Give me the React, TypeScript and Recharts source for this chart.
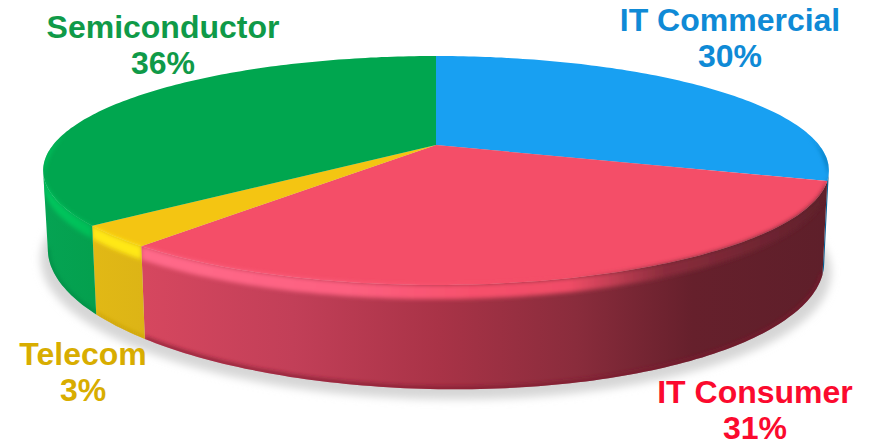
import { Pie, PieChart } from 'recharts'

const categories = ['IT Commercial', 'IT Consumer', 'Telecom', 'Semiconductor']
const shares = [30, 31, 3, 36]

const faceColors = ['#18a0f2', '#f44e68', '#f4c512', '#00a64f']
const labelColors = ['#0f8ad6', '#fb0a2e', '#d8ad00', '#0f9a48']
const lipColors = ['#0b5f94', '#7c1a2e', '#c9a010', '#008a44']

// label anchor: [x, first line baseline]
const labelPos: Record<string, [number, number]> = {
  'IT Commercial': [730, 31],
  'IT Consumer': [755, 403],
  Telecom: [83, 365],
  Semiconductor: [163, 38],
}

const pieData = categories.map((name, i) => ({ name, value: shares[i], fill: faceColors[i] }))
const shadowData = [{ name: 'shadow', value: 100 }]

const WIDTH = 869
const HEIGHT = 444
const TILT = 0.2227 // perspective strength
const FLAT = 0.284 // vertical squash of the disc
const BEVEL = 11
const DEPTH = 81
const SKEW = 0.08 // wall looks a little shorter on the left
const TANGENT = (Math.acos(-TILT) * 180) / Math.PI

const rad = (d: number) => (d * Math.PI) / 180

type Geo = { cx: number; cy: number; outerRadius: number }
type Pt = [number, number]

// clock angle (0 = 12 o'clock, clockwise) -> screen point on the disc rim
function rim(g: Geo, clock: number) {
  const u = Math.sin(rad(clock))
  const v = Math.cos(rad(clock))
  const w = 1 + TILT * v
  return {
    x: g.cx + (g.outerRadius * u) / w,
    y: g.cy - (g.outerRadius * FLAT * v) / w,
    u,
    v,
    w,
  }
}

function sweep(from: number, to: number, fn: (c: number) => Pt): Pt[] {
  const pts: Pt[] = []
  const n = Math.max(1, Math.ceil(Math.abs(to - from)))
  for (let i = 0; i <= n; i++) pts.push(fn(from + ((to - from) * i) / n))
  return pts
}

const toPath = (pts: Pt[]) =>
  pts.map((p, i) => `${i ? 'L' : 'M'}${p[0].toFixed(1)} ${p[1].toFixed(1)}`).join(' ') + ' Z'

const rimPt = (g: Geo) => (c: number): Pt => {
  const p = rim(g, c)
  return [p.x, p.y]
}
const floorPt = (g: Geo) => (c: number): Pt => {
  const p = rim(g, c)
  return [g.cx + (p.x - g.cx) * 0.988, p.y + ((DEPTH / p.w) * (1 + SKEW * p.u))]
}
const bevelPt = (g: Geo) => (c: number): Pt => {
  const p = rim(g, c)
  const f = Math.min(1, Math.max(0, (0.12 - p.v) / (0.12 + TILT)))
  return [p.x, p.y + (BEVEL * f) / p.w]
}

function SliceShape(props: any) {
  const { cx, cy, outerRadius, startAngle, endAngle, fill, name } = props
  const g: Geo = { cx, cy, outerRadius }
  const idx = categories.indexOf(name)
  const a = 90 - startAngle
  const b = 90 - endAngle

  const face = toPath([[cx, cy], ...sweep(a, b, rimPt(g))])

  const wa = Math.max(a, TANGENT)
  const wb = Math.min(b, 360 - TANGENT)
  const hasWall = wb > wa
  const wall = hasWall
    ? toPath([...sweep(wa, wb, rimPt(g)), ...sweep(wb, wa, floorPt(g))])
    : ''

  const ba = Math.max(a, 83)
  const bb = Math.min(b, 277)
  const hasBevel = bb > ba
  const bevel = hasBevel
    ? toPath([...sweep(ba, bb, rimPt(g)), ...sweep(bb, ba, bevelPt(g))])
    : ''

  const lip = hasWall
    ? sweep(wa, wb, floorPt(g))
        .map((p, i) => `${i ? 'L' : 'M'}${p[0].toFixed(1)} ${(p[1] - 1).toFixed(1)}`)
        .join(' ')
    : ''

  const clipId = `clip-${idx}`
  return (
    <g>
      <clipPath id={clipId}>
        <path d={`${face} ${wall}`} />
      </clipPath>
      {hasWall && <path d={wall} fill={`url(#wall-${idx})`} />}
      <path d={face} fill={fill} />
      <g clipPath={`url(#${clipId})`}>
        {hasBevel && <path d={bevel} fill={`url(#bevel-${idx})`} filter="url(#soft)" />}
        {hasWall && (
          <path d={lip} fill="none" stroke={lipColors[idx]} strokeWidth={3} filter="url(#soft)" />
        )}
      </g>
    </g>
  )
}

function ShadowShape(props: any) {
  const { cx, cy, outerRadius } = props
  const g: Geo = { cx, cy, outerRadius }
  const pts = sweep(0, 360, floorPt(g)).map((p): Pt => [cx + (p[0] - cx) * 1.018, p[1] + 10])
  return <path d={toPath(pts)} fill="#d6d6d6" filter="url(#shadowBlur)" />
}

function sideStops(stops: [number, string][]) {
  return stops.map(([o, c]) => <stop key={o} offset={`${o}%`} stopColor={c} />)
}

function renderLabel(props: any) {
  const { name, value } = props
  const pos = labelPos[name]
  if (!pos) return null
  const color = labelColors[categories.indexOf(name)]
  return (
    <text
      x={pos[0]}
      y={pos[1]}
      textAnchor="middle"
      fill={color}
      stroke="none"
      fontFamily="'Liberation Sans', Arial, sans-serif"
      fontWeight={700}
      fontSize={32}
    >
      <tspan x={pos[0]}>{name}</tspan>
      <tspan x={pos[0]} dy={36}>{`${value}%`}</tspan>
    </text>
  )
}

export default function App() {
  return (
    <div style={{ position: 'absolute', left: 0, top: 0, width: WIDTH, height: HEIGHT, background: '#fff' }}>
      <PieChart width={WIDTH} height={HEIGHT} margin={{ top: 0, right: 0, bottom: 0, left: 0 }}>
        <defs>
          <filter id="soft" filterUnits="userSpaceOnUse" x="0" y="0" width={WIDTH} height={HEIGHT}>
            <feGaussianBlur stdDeviation="2.2" />
          </filter>
          <filter id="shadowBlur" filterUnits="userSpaceOnUse" x="0" y="0" width={WIDTH} height={HEIGHT}>
            <feGaussianBlur stdDeviation="4" />
          </filter>
          <linearGradient id="wall-0" gradientUnits="userSpaceOnUse" x1="44" x2="830" y1="0" y2="0">
            {sideStops([[0, '#0b5f94'], [100, '#0b5f94']])}
          </linearGradient>
          <linearGradient id="wall-1" gradientUnits="userSpaceOnUse" x1="142" x2="830" y1="0" y2="0">
            {sideStops([[0, '#d6475f'], [22, '#c23f58'], [43, '#a93347'], [63, '#8a2c3c'], [80, '#66202c'], [100, '#5e1f2a']])}
          </linearGradient>
          <linearGradient id="wall-2" gradientUnits="userSpaceOnUse" x1="88" x2="147" y1="0" y2="0">
            {sideStops([[0, '#e2b915'], [100, '#dcb416']])}
          </linearGradient>
          <linearGradient id="wall-3" gradientUnits="userSpaceOnUse" x1="44" x2="93" y1="0" y2="0">
            {sideStops([[0, '#05a353'], [100, '#04a04e']])}
          </linearGradient>
          <linearGradient id="bevel-0" gradientUnits="userSpaceOnUse" x1="780" x2="830" y1="0" y2="0">
            {sideStops([[0, '#18a0f2'], [70, '#1590dc'], [100, '#0a5f92']])}
          </linearGradient>
          <linearGradient id="bevel-1" gradientUnits="userSpaceOnUse" x1="142" x2="830" y1="0" y2="0">
            {sideStops([[0, '#ff6a8a'], [30, '#fd6080'], [48, '#f7506c'], [62, '#f04c66'], [76, '#8a2c3c'], [100, '#5e1f2a']])}
          </linearGradient>
          <linearGradient id="bevel-2" gradientUnits="userSpaceOnUse" x1="88" x2="147" y1="0" y2="0">
            {sideStops([[0, '#ffe814'], [100, '#ffe814']])}
          </linearGradient>
          <linearGradient id="bevel-3" gradientUnits="userSpaceOnUse" x1="44" x2="93" y1="0" y2="0">
            {sideStops([[0, '#00c85e'], [100, '#00be58']])}
          </linearGradient>
        </defs>
        <Pie
          data={shadowData}
          dataKey="value"
          cx={436}
          cy={145}
          outerRadius={383}
          startAngle={90}
          endAngle={-270}
          shape={ShadowShape}
          stroke="none"
          isAnimationActive={false}
        />
        <Pie
          data={pieData}
          dataKey="value"
          nameKey="name"
          cx={436}
          cy={145}
          innerRadius={0}
          outerRadius={383}
          startAngle={90}
          endAngle={-270}
          paddingAngle={0}
          shape={SliceShape}
          stroke="none"
          label={renderLabel}
          labelLine={false}
          isAnimationActive={false}
        />
      </PieChart>
    </div>
  )
}
